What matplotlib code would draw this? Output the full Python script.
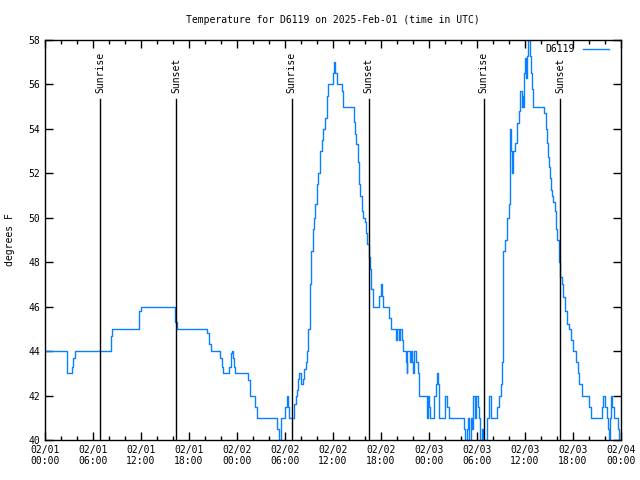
import matplotlib
matplotlib.use("Agg")
import matplotlib.pyplot as plt
from matplotlib.ticker import MultipleLocator

# Temperature for D6119, hours since 2025-02-01 00:00 UTC (step changes)
hours = [
    0.0, 2.7, 3.4, 3.5, 3.7, 8.2, 8.3, 8.4, 11.7, 11.8, 11.95, 16.2, 16.3, 16.45,
    20.3, 20.5, 20.7, 21.9, 22.1, 22.2, 23.0, 23.2, 23.3, 23.4, 23.5, 23.6, 23.75,
    25.4, 25.6, 26.3, 26.45, 29.0, 29.2, 29.45, 29.55, 30.0, 30.2, 30.4, 30.55,
    31.1, 31.4, 31.55, 31.65, 31.8, 31.95, 32.2, 32.4, 32.6, 32.7, 32.9, 33.15,
    33.3, 33.45, 33.6, 33.8, 33.95, 34.15, 34.4, 34.6, 34.8, 35.0, 35.2, 35.35,
    36.05, 36.15, 36.3, 36.45, 37.1, 37.2, 37.3, 38.6, 38.75, 38.9, 39.1, 39.25,
    39.4, 39.6, 39.8, 40.0, 40.1, 40.3, 40.45, 40.6, 40.7, 40.8, 40.95, 41.05,
    41.75, 41.95, 42.15, 42.3, 43.0, 43.3, 43.9, 44.0, 44.2, 44.4, 44.6, 44.8,
    45.1, 45.2, 45.3, 45.65, 45.75, 45.9, 46.0, 46.15, 46.35, 46.6, 46.75,
    47.7, 47.9, 48.0, 48.1, 48.6, 48.9, 49.0, 49.1, 49.2, 49.3, 50.0, 50.3, 50.5,
    52.4, 52.5, 52.7, 52.9, 53.0, 53.2, 53.4, 53.5, 53.7, 53.9, 54.1, 54.25,
    54.4, 54.6, 54.8, 55.2, 55.45, 55.7, 55.8, 56.5, 56.75, 57.0, 57.1, 57.2,
    57.3, 57.5, 57.8, 58.0, 58.1, 58.15, 58.25, 58.35, 58.5, 58.8, 59.0, 59.2,
    59.4, 59.6, 59.7, 59.8, 59.9, 60.0, 60.1, 60.2, 60.3, 60.4, 60.6, 60.75,
    60.9, 61.0, 62.4, 62.6, 62.75, 62.9, 63.0, 63.1, 63.25, 63.4, 63.55, 63.7,
    63.85, 64.0, 64.2, 64.3, 64.4, 64.6, 64.8, 65.0, 65.2, 65.5, 65.7, 66.0,
    66.4, 66.6, 66.8, 67.1, 68.0, 68.25, 69.6, 69.8, 70.0, 70.2, 70.35, 70.5,
    70.65, 70.75, 70.9, 71.1, 71.6, 71.8, 72.0,
]
temps = [
    44.0, 43.0, 43.3, 43.7, 44.0, 44.3, 44.7, 45.0, 45.3, 45.8, 46.0, 45.8, 45.3, 45.0,
    44.8, 44.3, 44.0, 43.7, 43.3, 43.0, 43.3, 43.6, 43.9, 44.0, 43.7, 43.3, 43.0,
    42.7, 42.0, 41.5, 41.0, 40.5, 40.0, 40.5, 41.0, 41.5, 42.0, 41.5, 41.0,
    41.6, 42.0, 42.25, 42.75, 43.0, 42.5, 42.75, 43.2, 43.5, 44.0, 45.0, 47.0,
    48.5, 49.5, 50.0, 50.6, 51.5, 52.0, 53.0, 53.5, 54.0, 54.5, 55.5, 56.0,
    56.5, 57.0, 56.5, 56.0, 55.7, 55.3, 55.0, 54.3, 53.75, 53.3, 52.5, 51.5,
    51.0, 50.3, 50.0, 49.8, 49.3, 48.8, 48.25, 47.7, 47.3, 46.8, 46.3, 46.0,
    46.5, 47.0, 46.5, 46.0, 45.5, 45.0, 44.5, 45.0, 44.5, 45.0, 44.5, 44.0,
    43.5, 43.0, 44.0, 43.5, 44.0, 43.5, 43.0, 44.0, 43.5, 43.0, 42.0,
    41.0, 42.0, 41.5, 41.0, 42.0, 42.5, 43.0, 42.5, 42.0, 41.0, 42.0, 41.5, 41.0,
    40.5, 40.0, 40.5, 41.0, 40.0, 41.0, 40.5, 42.0, 41.0, 42.0, 41.5, 41.0,
    40.0, 40.5, 40.0, 41.0, 42.0, 41.5, 41.0, 41.5, 42.0, 42.5, 43.5, 46.5,
    48.5, 49.0, 50.0, 50.6, 52.5, 54.0, 53.0, 52.0, 53.0, 53.35, 54.25, 54.8,
    55.7, 55.0, 55.5, 55.0, 56.5, 57.2, 56.3, 56.5, 57.3, 58.0, 57.3, 56.5,
    55.8, 55.0, 54.7, 54.0, 53.35, 52.75, 52.3, 51.8, 51.25, 51.0, 50.7, 50.3,
    49.5, 49.0, 48.7, 48.0, 47.35, 47.0, 46.45, 45.8, 45.2, 45.0, 44.5, 44.0,
    43.5, 43.0, 42.5, 42.0, 41.5, 41.0, 41.5, 42.0, 41.5, 41.0, 40.5, 40.0,
    41.0, 42.0, 41.5, 41.0, 40.5, 40.0, 40.0,
]

sunrise = [6.9, 30.85, 54.85]
sunset = [16.4, 40.45, 64.4]

tick_hours = [0, 6, 12, 18, 24, 30, 36, 42, 48, 54, 60, 66, 72]
tick_labels = [
    "02/01\n00:00", "02/01\n06:00", "02/01\n12:00", "02/01\n18:00",
    "02/02\n00:00", "02/02\n06:00", "02/02\n12:00", "02/02\n18:00",
    "02/03\n00:00", "02/03\n06:00", "02/03\n12:00", "02/03\n18:00",
    "02/04\n00:00",
]

FONT = "DejaVu Sans Mono"
FS = 7
BLUE = "#0a80ff"

plt.rcParams["font.family"] = FONT
fig = plt.figure(figsize=(6.4, 4.8), dpi=100)
ax = fig.add_axes([45 / 640, 40 / 480, 576 / 640, 400 / 480])

ax.plot(hours, temps, drawstyle="steps-post", color=BLUE, linewidth=1.0,
        label="D6119")

for x in sunrise:
    ax.plot([x, x], [0, 0.853], color="black", linewidth=1.0,
            transform=ax.get_xaxis_transform())
    ax.text(x, 0.867, "Sunrise", rotation=90, ha="center", va="bottom",
            fontsize=FS, transform=ax.get_xaxis_transform())
for x in sunset:
    ax.plot([x, x], [0, 0.853], color="black", linewidth=1.0,
            transform=ax.get_xaxis_transform())
    ax.text(x, 0.867, "Sunset", rotation=90, ha="center", va="bottom",
            fontsize=FS, transform=ax.get_xaxis_transform())

ax.set_xlim(0, 72)
ax.set_ylim(40, 58)
ax.set_xticks(tick_hours)
ax.set_xticklabels(tick_labels, fontsize=FS)
ax.xaxis.set_minor_locator(MultipleLocator(2))
ax.yaxis.set_major_locator(MultipleLocator(2))
ax.tick_params(axis="y", labelsize=FS)
ax.tick_params(which="both", direction="in", top=True, right=True, width=1.0)
ax.tick_params(which="major", length=6)
ax.tick_params(which="minor", length=3)
for s in ax.spines.values():
    s.set_linewidth(1.0)

ax.set_ylabel("degrees F", fontsize=FS)
ax.yaxis.set_label_coords(-0.052, 0.5)
ax.set_title("Temperature for D6119 on 2025-Feb-01 (time in UTC)",
             fontsize=FS, pad=12.5)
ax.legend(loc="upper right", bbox_to_anchor=(0.983, 0.995), frameon=False,
          fontsize=FS, handlelength=2.7, handletextpad=0.9, markerfirst=False,
          borderaxespad=0, borderpad=0.2)

fig.savefig("out.png", dpi=100)
